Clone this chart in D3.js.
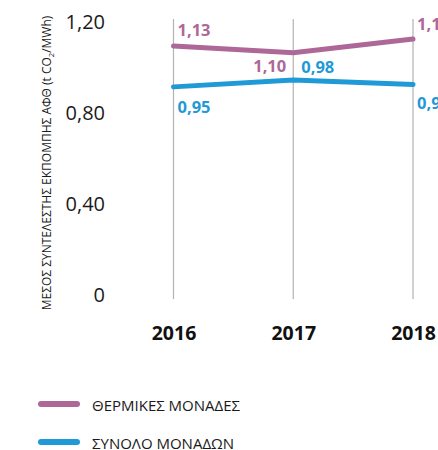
<!DOCTYPE html>
<html>
<head>
<meta charset="utf-8">
<script src="https://cdn.jsdelivr.net/npm/d3@7"></script>
<style>
  html, body { margin: 0; padding: 0; background: #ffffff; }
  svg { display: block; font-family: "Open Sans", "Noto Sans", sans-serif; }
</style>
</head>
<body>
<script>
// Average CO2 emission factor of the generating units (t CO2 / MWh)
const years = ["2016", "2017", "2018"];
const thermalUnits = [1.13, 1.10, 1.16];
const allUnits = [0.95, 0.98, 0.96];
const yTicks = [0, 0.4, 0.8, 1.2];
const seriesNames = ["ΘΕΡΜΙΚΕΣ ΜΟΝΑΔΕΣ", "ΣΥΝΟΛΟ ΜΟΝΑΔΩΝ"];
const seriesColors = ["#ad6898", "#1f9ad7"];

const W = 438, H = 450;
const svg = d3.select("body").append("svg").attr("width", W).attr("height", H);

const x = d3.scalePoint().domain(years).range([173.5, 413]);
const y = d3.scaleLinear().domain([0, 1.2]).range([303, 30]);

const fmt = v => d3.format(".2f")(v).replace(".", ",");

// vertical guide lines at each year
svg.append("g").selectAll("line").data(years).join("line")
  .attr("x1", d => x(d)).attr("x2", d => x(d))
  .attr("y1", y(1.2) - 11).attr("y2", y(0) - 4)
  .attr("stroke", "#b3b3b3").attr("stroke-width", 1.2);

// y axis tick labels
const yAxis = d3.axisLeft(y).tickValues(yTicks).tickSize(0).tickPadding(0)
  .tickFormat(v => v === 0 ? "0" : fmt(v));
svg.append("g").attr("transform", "translate(105,0)").call(yAxis)
  .call(g => g.select(".domain").remove())
  .call(g => g.selectAll("text")
    .attr("dy", -2).attr("font-size", 20).attr("fill", "#1a1a1a")
    .attr("font-family", "'Open Sans', sans-serif"));

// x axis year labels
const xAxis = d3.axisBottom(x).tickSize(0).tickPadding(0);
svg.append("g").attr("transform", "translate(0,340)").call(xAxis)
  .call(g => g.select(".domain").remove())
  .call(g => g.selectAll("text")
    .attr("dy", 0).attr("y", 0).attr("font-size", 19.5).attr("font-weight", 700)
    .attr("fill", "#111").attr("font-family", "'Open Sans', sans-serif"));

// rotated y axis title
const title = svg.append("text")
  .attr("transform", "translate(51,163) rotate(-90)")
  .attr("text-anchor", "middle").attr("font-size", 12).attr("fill", "#1a1a1a");
title.append("tspan").text("ΜΕΣΟΣ ΣΥΝΤΕΛΕΣΤΗΣ ΕΚΠΟΜΠΗΣ ΑΦΘ (t CO");
title.append("tspan").attr("font-size", 7.5).attr("dy", 3).text("2");
title.append("tspan").attr("dy", -3).text("/MWh)");

// series lines
const line = d3.line().x((d, i) => x(years[i])).y(d => y(d));
const series = [thermalUnits, allUnits];
svg.append("g").selectAll("path").data(series).join("path")
  .attr("d", d => line(d))
  .attr("fill", "none")
  .attr("stroke", (d, i) => seriesColors[i])
  .attr("stroke-width", 5)
  .attr("stroke-linecap", "round")
  .attr("stroke-linejoin", "miter");

// value labels: [series index, year index, dx, dy, anchor]
const labelSpecs = [
  [0, 0, 4, -10, "start"],
  [1, 0, 4, 26, "start"],
  [0, 1, -7, 19, "end"],
  [1, 1, 8, -7, "start"],
  [0, 2, 4, -9, "start"],
  [1, 2, 4, 24, "start"]
];
svg.append("g").selectAll("text").data(labelSpecs).join("text")
  .attr("x", d => x(years[d[1]]) + d[2])
  .attr("y", d => y(series[d[0]][d[1]]) + d[3])
  .attr("text-anchor", d => d[4])
  .attr("font-size", 16.5).attr("font-weight", 700)
  .attr("fill", d => seriesColors[d[0]])
  .text(d => fmt(series[d[0]][d[1]]));

// legend
const legend = svg.append("g").selectAll("g").data(seriesNames).join("g")
  .attr("transform", (d, i) => `translate(0,${404 + i * 38})`);
legend.append("line")
  .attr("x1", 41).attr("x2", 77).attr("y1", 0).attr("y2", 0)
  .attr("stroke", (d, i) => seriesColors[i]).attr("stroke-width", 6)
  .attr("stroke-linecap", "round");
legend.append("text")
  .attr("x", 92).attr("y", 6.5)
  .attr("font-size", 15).attr("fill", "#1a1a1a")
  .text(d => d);
</script>
</body>
</html>
